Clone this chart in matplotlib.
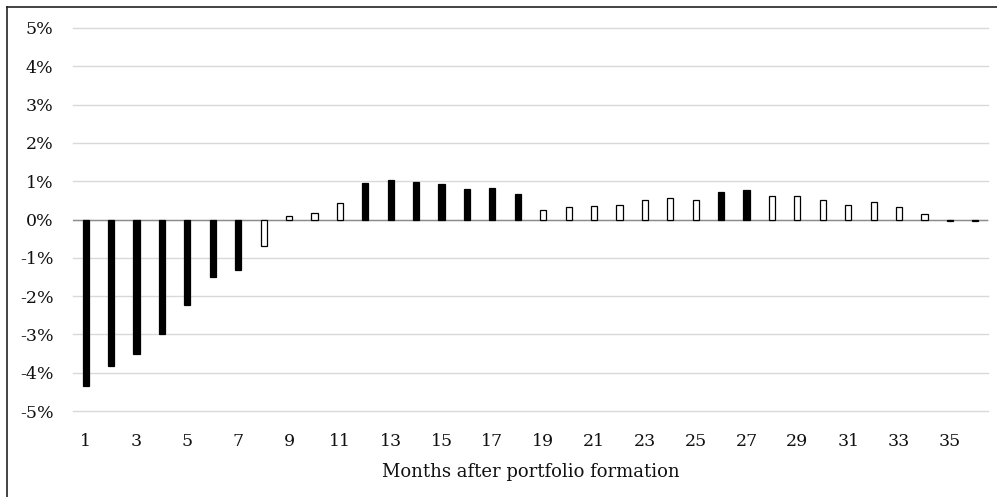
import matplotlib.pyplot as plt
from matplotlib.lines import Line2D
from matplotlib.ticker import FuncFormatter

# monthly returns (%) after portfolio formation
months = list(range(1, 37))
returns = [
    -4.35, -3.83, -3.50, -2.98, -2.22, -1.49, -1.31, -0.70, 0.10, 0.16,
    0.43, 0.94, 1.03, 0.98, 0.92, 0.79, 0.81, 0.67, 0.26, 0.32,
    0.35, 0.37, 0.50, 0.57, 0.50, 0.72, 0.77, 0.61, 0.61, 0.50,
    0.37, 0.45, 0.32, 0.14, -0.04, -0.03,
]
# 1 = significant (filled bar), 0 = not significant (open bar)
significant = [
    1, 1, 1, 1, 1, 1, 1, 0, 0, 0,
    0, 1, 1, 1, 1, 1, 1, 1, 0, 0,
    0, 0, 0, 0, 0, 1, 1, 0, 0, 0,
    0, 0, 0, 0, 1, 1,
]
x_ticks = list(range(1, 37, 2))
y_ticks = list(range(-5, 6))

plt.rcParams["font.family"] = ["DejaVu Serif"]

fig = plt.figure(figsize=(9.97, 4.97), dpi=100)
ax = fig.add_axes([73 / 997, (497 - 411) / 497, 915 / 997, 383 / 497])

fills = ["black" if s else "white" for s in significant]
ax.bar(months, returns, width=0.24, color=fills, edgecolor="black",
       linewidth=0.9, zorder=3)

ax.set_xlim(0.5, 36.5)
ax.set_ylim(-5, 5)
ax.set_yticks(y_ticks)
ax.yaxis.set_major_formatter(FuncFormatter(lambda v, p: "{:.0f}%".format(v)))
ax.set_xticks(x_ticks)
ax.grid(axis="y", color="#d9d9d9", linewidth=1, zorder=0)
for gl in ax.get_ygridlines():
    gl.set_clip_on(False)
ax.axhline(0, color="#8c8c8c", linewidth=1, zorder=2)
for side in ["top", "right", "bottom", "left"]:
    ax.spines[side].set_visible(False)
ax.tick_params(axis="both", length=0, labelsize=12.5, colors="#111111")
ax.tick_params(axis="y", pad=14)
ax.tick_params(axis="x", pad=16)
ax.set_xlabel("Months after portfolio formation", fontsize=13,
              color="#111111", labelpad=9)

# outer frame (only top and left edges visible)
fig.add_artist(Line2D([7 / 997, 7 / 997], [0, 1 - 7 / 497],
                      transform=fig.transFigure, color="#222222", linewidth=1.2))
fig.add_artist(Line2D([7 / 997, 1], [1 - 7 / 497, 1 - 7 / 497],
                      transform=fig.transFigure, color="#222222", linewidth=1.2))

fig.savefig("out.png", dpi=100)
